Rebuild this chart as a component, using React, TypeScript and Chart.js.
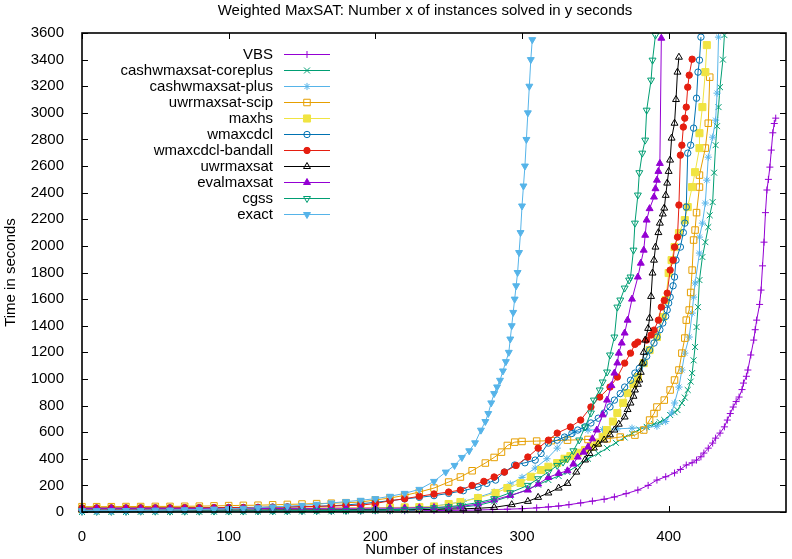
import React, { useEffect, useRef } from 'react';
import { Chart, registerables } from 'chart.js';

Chart.register(...registerables);

const titleText = 'Weighted MaxSAT: Number x of instances solved in y seconds';
const xAxisTitle = 'Number of instances';
const yAxisTitle = 'Time in seconds';

const xTicks = [0, 100, 200, 300, 400];
const yTicks = [0, 200, 400, 600, 800, 1000, 1200, 1400, 1600, 1800, 2000, 2200, 2400, 2600, 2800, 3000, 3200, 3400, 3600];

const seriesNames = ['VBS', 'cashwmaxsat-coreplus', 'cashwmaxsat-plus', 'uwrmaxsat-scip', 'maxhs', 'wmaxcdcl', 'wmaxcdcl-bandall', 'uwrmaxsat', 'evalmaxsat', 'cgss', 'exact'];
const seriesColors = ['#9400d3', '#009e73', '#56b4e9', '#e69f00', '#f0e442', '#0072b2', '#e51e10', '#000000', '#9400d3', '#009e73', '#56b4e9'];

// [instances solved, seconds]
const vbs = [[0,2],[10,2],[20,2],[30,2],[40,3],[50,3],[60,3],[70,3],[80,3],[90,4],[100,4],[110,4],[120,5],[130,5],[140,5],[150,6],[160,6],[170,6],[180,7],[190,7],[200,8],[210,8],[220,9],[230,10],[240,11],[250,12],[260,13],[270,15],[280,18],[290,21],[300,25],[310,31],[318,38],[325,45],[332,55],[340,68],[348,82],[356,96],[363,113],[371,138],[379,165],[386,200],[392,240],[398,265],[404,293],[408,320],[412,353],[416,370],[419,390],[422,415],[424,443],[427,480],[430,518],[432,555],[435,593],[438,640],[440,691],[442,740],[444,789],[446,830],[448,864],[450,920],[451,969],[453,1020],[454,1067],[456,1180],[458,1292],[459,1370],[460,1442],[462,1560],[463,1668],[464,1850],[465,2028],[466,2250],[467,2420],[468,2500],[469,2592],[470,2720],[471,2850],[472,2920],[473,2960]];
const coreplus = [[0,0],[10,0],[20,0],[30,0],[40,1],[50,1],[60,1],[70,1],[80,1],[90,2],[100,2],[110,2],[120,3],[130,3],[140,3],[150,4],[160,5],[170,5],[180,6],[190,7],[200,8],[210,10],[220,12],[230,16],[240,20],[250,28],[260,38],[270,50],[281,80],[292,120],[304,170],[311,205],[318,240],[325,270],[331,300],[338,350],[345,400],[352,440],[358,480],[364,520],[370,560],[375,590],[380,620],[385,640],[390,660],[394,675],[397,691],[401,729],[404,750],[406,766],[409,819],[411,860],[413,917],[415,980],[416,1044],[417,1140],[418,1240],[419,1390],[420,1540],[421,1743],[423,1916],[425,2028],[427,2141],[428,2230],[430,2329],[431,2550],[432,2757],[433,2900],[434,3043],[435,3193],[437,3400],[438,3584]];
const plus = [[0,5],[10,5],[20,5],[30,5],[40,6],[50,6],[60,6],[70,6],[80,6],[90,7],[100,7],[110,7],[120,8],[130,8],[140,9],[150,10],[160,11],[170,12],[180,14],[190,16],[200,18],[210,22],[220,28],[230,35],[240,45],[250,60],[260,80],[270,110],[281,150],[292,210],[300,260],[309,330],[317,400],[324,480],[330,560],[335,600],[345,615],[355,620],[365,625],[375,630],[385,635],[392,645],[398,680],[402,744],[404,819],[407,939],[409,1067],[411,1194],[414,1315],[416,1495],[417,1615],[418,1721],[421,1946],[421,2066],[423,2171],[425,2322],[426,2494],[427,2667],[430,2817],[432,2945],[433,3148],[434,3569]];
const scip = [[0,40],[10,40],[20,40],[30,41],[40,41],[50,42],[60,42],[70,43],[80,44],[90,46],[100,48],[110,50],[120,51],[130,54],[140,57],[150,60],[160,63],[170,66],[180,70],[190,75],[200,90],[210,105],[220,125],[230,150],[240,180],[250,225],[258,263],[266,310],[275,368],[281,410],[286,450],[290,500],[295,525],[300,530],[310,533],[320,536],[331,540],[345,545],[358,550],[367,563],[377,578],[383,616],[387,691],[390,740],[392,789],[397,841],[401,917],[404,992],[407,1067],[409,1194],[411,1307],[412,1442],[414,1518],[415,1650],[416,1818],[417,2044],[418,2119],[419,2250],[421,2442],[421,2532],[425,2735],[427,2922],[428,3268]];
const maxhs = [[0,25],[10,25],[20,25],[30,26],[40,26],[50,26],[60,26],[70,27],[80,27],[90,27],[100,28],[110,28],[120,29],[130,29],[140,30],[150,30],[160,31],[170,31],[180,32],[190,32],[200,33],[210,34],[220,35],[230,37],[240,42],[250,60],[258,75],[270,105],[282,143],[290,180],[299,218],[306,265],[313,315],[318,340],[324,368],[329,400],[333,420],[338,445],[343,466],[347,490],[351,518],[355,565],[358,616],[362,680],[365,744],[369,820],[372,894],[376,960],[379,1014],[383,1119],[387,1217],[392,1315],[396,1465],[398,1593],[400,1796],[402,1893],[404,1991],[407,2096],[411,2194],[413,2292],[416,2442],[418,2554],[421,2735],[421,2847],[423,3043],[425,3306],[426,3509]];
const wmaxcdcl = [[0,30],[10,30],[20,30],[30,30],[40,31],[50,31],[60,31],[70,32],[80,32],[90,33],[100,34],[110,34],[120,35],[130,37],[140,38],[150,40],[160,43],[170,47],[180,53],[190,62],[200,73],[210,85],[220,98],[230,110],[240,123],[250,140],[260,160],[270,188],[276,215],[282,240],[288,300],[295,353],[302,370],[309,390],[313,440],[318,518],[324,540],[329,563],[334,590],[338,616],[343,640],[347,669],[352,705],[356,744],[360,790],[363,841],[367,890],[370,939],[374,990],[377,1044],[380,1080],[383,1119],[385,1170],[387,1217],[390,1270],[392,1315],[394,1370],[396,1420],[398,1470],[399,1518],[400,1570],[401,1615],[403,1700],[404,1766],[405,1893],[408,1991],[410,2100],[411,2171],[412,2292],[413,2697],[415,2757],[417,2885],[419,3110],[420,3306],[421,3396],[422,3569]];
const bandall = [[0,30],[10,30],[20,30],[30,30],[40,31],[50,31],[60,31],[70,32],[80,32],[90,32],[100,33],[110,33],[120,34],[130,36],[140,38],[150,40],[160,42],[170,45],[180,48],[190,51],[200,64],[210,84],[220,100],[230,118],[240,135],[250,150],[258,165],[266,200],[274,230],[281,263],[288,300],[296,350],[304,413],[311,480],[318,540],[324,593],[333,639],[340,691],[347,789],[353,864],[360,939],[365,1014],[370,1119],[374,1194],[377,1260],[379,1277],[385,1292],[388,1330],[390,1367],[393,1442],[395,1540],[397,1590],[399,1645],[401,1818],[403,1893],[404,1991],[406,2066],[407,2307],[408,2682],[409,2757],[410,2893],[411,2960],[412,3043],[413,3193],[414,3283],[416,3403]];
const uwrmaxsat = [[0,15],[10,15],[20,15],[30,15],[40,15],[50,15],[60,15],[70,15],[80,15],[90,15],[100,15],[110,15],[120,15],[130,16],[140,16],[150,16],[160,16],[170,16],[180,16],[190,17],[200,17],[210,18],[220,18],[230,19],[240,20],[250,22],[260,24],[270,28],[281,35],[293,55],[304,80],[311,110],[318,143],[325,180],[331,215],[337,300],[343,391],[346,440],[349,481],[352,510],[356,541],[360,580],[363,616],[366,660],[370,714],[372,770],[374,819],[376,870],[377,917],[379,960],[380,992],[381,1050],[382,1119],[383,1200],[384,1292],[386,1380],[387,1457],[388,1620],[389,1796],[390,1893],[391,1991],[393,2100],[394,2171],[396,2240],[397,2284],[398,2380],[399,2472],[400,2560],[401,2645],[402,2810],[404,2922],[405,3100],[406,3306],[407,3418]];
const evalmaxsat = [[0,25],[10,25],[20,25],[30,25],[40,25],[50,25],[60,25],[70,25],[80,25],[90,26],[100,26],[110,26],[120,26],[130,26],[140,27],[150,27],[160,27],[170,28],[180,28],[190,28],[200,29],[210,29],[220,30],[230,32],[240,34],[250,37],[258,40],[270,60],[281,90],[292,125],[304,165],[311,210],[318,260],[325,290],[331,310],[335,360],[338,413],[342,450],[345,488],[348,550],[351,616],[355,730],[358,841],[361,950],[363,1044],[365,1120],[366,1194],[368,1270],[370,1345],[372,1442],[375,1600],[379,1766],[381,1870],[383,1968],[384,2080],[385,2194],[387,2280],[390,2367],[391,2430],[392,2494],[393,2560],[394,2620],[395,3561]];
const cgss = [[0,5],[10,5],[20,5],[30,5],[40,6],[50,6],[60,6],[70,6],[80,6],[90,7],[100,7],[110,7],[120,8],[130,8],[140,9],[150,10],[160,10],[170,11],[180,12],[190,13],[200,15],[210,17],[220,20],[230,25],[240,32],[250,40],[258,50],[270,70],[281,100],[292,145],[304,200],[311,250],[318,300],[324,350],[328,375],[331,400],[335,460],[339,541],[343,639],[347,744],[349,841],[353,917],[355,977],[358,1052],[360,1180],[363,1315],[365,1540],[367,1593],[370,1683],[373,1743],[374,1766],[376,1968],[377,2171],[379,2382],[380,2550],[382,2697],[384,2795],[385,3020],[388,3246],[389,3396],[391,3584]];
const exact = [[0,10],[10,10],[20,10],[30,11],[40,12],[50,14],[60,15],[70,17],[80,19],[90,22],[100,25],[110,28],[120,32],[130,38],[140,44],[150,50],[160,58],[170,68],[180,78],[190,88],[200,100],[210,118],[220,140],[230,170],[240,230],[248,300],[254,350],[259,410],[264,460],[268,520],[272,615],[275,680],[277,740],[279,820],[281,890],[283,940],[285,990],[287,1060],[289,1130],[291,1200],[292,1300],[293,1400],[294,1500],[295,1600],[296,1700],[297,1800],[298,1950],[299,2100],[300,2300],[301,2450],[302,2600],[303,2800],[304,3000],[305,3200],[306,3400],[307,3550]];

const seriesData = [vbs, coreplus, plus, scip, maxhs, wmaxcdcl, bandall, uwrmaxsat, evalmaxsat, cgss, exact];

type Marker = { style: string; filled: boolean; r: number; rot: number };
const markerStyles: Marker[] = [
  { style: 'cross', filled: false, r: 3.5, rot: 0 },
  { style: 'crossRot', filled: false, r: 4.2, rot: 0 },
  { style: 'star', filled: false, r: 3.6, rot: 0 },
  { style: 'rect', filled: false, r: 4.6, rot: 0 },
  { style: 'rect', filled: true, r: 5, rot: 0 },
  { style: 'circle', filled: false, r: 3.2, rot: 0 },
  { style: 'circle', filled: true, r: 3.2, rot: 0 },
  { style: 'triangle', filled: false, r: 4, rot: 0 },
  { style: 'triangle', filled: true, r: 4, rot: 0 },
  { style: 'triangle', filled: false, r: 4, rot: 180 },
  { style: 'triangle', filled: true, r: 4, rot: 180 },
];

const FONT = '"Liberation Sans", Arial, Helvetica, sans-serif';
const FSIZE = 15;

function drawMarker(ctx: CanvasRenderingContext2D, m: Marker, x: number, y: number, color: string) {
  ctx.save();
  ctx.translate(x, y);
  ctx.rotate((m.rot * Math.PI) / 180);
  ctx.strokeStyle = color;
  ctx.fillStyle = color;
  ctx.lineWidth = 1;
  const r = m.r;
  ctx.beginPath();
  if (m.style === 'cross') {
    ctx.moveTo(-r, 0); ctx.lineTo(r, 0); ctx.moveTo(0, -r); ctx.lineTo(0, r);
    ctx.stroke();
  } else if (m.style === 'crossRot') {
    const d = r * Math.SQRT1_2;
    ctx.moveTo(-d, -d); ctx.lineTo(d, d); ctx.moveTo(-d, d); ctx.lineTo(d, -d);
    ctx.stroke();
  } else if (m.style === 'star') {
    const d = r * Math.SQRT1_2;
    ctx.moveTo(-r, 0); ctx.lineTo(r, 0); ctx.moveTo(0, -r); ctx.lineTo(0, r);
    ctx.moveTo(-d, -d); ctx.lineTo(d, d); ctx.moveTo(-d, d); ctx.lineTo(d, -d);
    ctx.stroke();
  } else if (m.style === 'rect') {
    const s = r * Math.SQRT1_2;
    ctx.rect(-s, -s, 2 * s, 2 * s);
    if (m.filled) ctx.fill();
    ctx.stroke();
  } else if (m.style === 'circle') {
    ctx.arc(0, 0, r, 0, Math.PI * 2);
    if (m.filled) ctx.fill();
    ctx.stroke();
  } else {
    for (let k = 0; k < 3; k++) {
      const a = (k * 2 * Math.PI) / 3;
      const px = Math.sin(a) * r;
      const py = -Math.cos(a) * r;
      if (k === 0) ctx.moveTo(px, py); else ctx.lineTo(px, py);
    }
    ctx.closePath();
    if (m.filled) ctx.fill();
    ctx.stroke();
  }
  ctx.restore();
}

const framePlugin = {
  id: 'gnuplotFrame',
  afterDatasetsDraw(chart: any) {
    const { ctx, chartArea: a, scales } = chart;
    ctx.save();
    ctx.strokeStyle = '#000';
    ctx.lineWidth = 1;
    ctx.beginPath();
    yTicks.forEach((v) => {
      const py = Math.round(scales.y.getPixelForValue(v)) + 0.5;
      ctx.moveTo(a.left, py); ctx.lineTo(a.left + 6, py);
      ctx.moveTo(a.right - 6, py); ctx.lineTo(a.right, py);
    });
    xTicks.forEach((v) => {
      const px = Math.round(scales.x.getPixelForValue(v)) + 0.5;
      ctx.moveTo(px, a.bottom); ctx.lineTo(px, a.bottom - 6);
      ctx.moveTo(px, a.top); ctx.lineTo(px, a.top + 6);
    });
    ctx.stroke();
    ctx.lineWidth = 1.6;
    ctx.strokeRect(a.left, a.top, a.right - a.left, a.bottom - a.top);

    ctx.font = `${FSIZE}px ${FONT}`;
    ctx.fillStyle = '#000';
    ctx.textAlign = 'center';
    ctx.textBaseline = 'middle';
    ctx.fillText(titleText, 425, 11);

    // key: right-aligned labels with a sample line and marker
    ctx.textAlign = 'right';
    seriesNames.forEach((name, i) => {
      const y = 54 + 16 * i;
      ctx.fillStyle = '#000';
      ctx.fillText(name, 273, y + 0.5);
      ctx.strokeStyle = seriesColors[i];
      ctx.lineWidth = 1;
      ctx.beginPath();
      ctx.moveTo(284, y + 0.5); ctx.lineTo(330, y + 0.5);
      ctx.stroke();
      drawMarker(ctx, markerStyles[i], 307, y + 0.5, seriesColors[i]);
    });
    ctx.restore();
  },
};

export default function App() {
  const ref = useRef<HTMLCanvasElement | null>(null);
  useEffect(() => {
    document.body.style.margin = '0';
    if (!ref.current) return;
    const n = seriesNames.length;
    const tickFont = { family: FONT, size: FSIZE };
    const chart = new Chart(ref.current, {
      type: 'line',
      data: {
        datasets: seriesNames.map((name, i) => ({
          label: name,
          data: seriesData[i].map(([x, y]) => ({ x, y })),
          borderColor: seriesColors[i],
          backgroundColor: seriesColors[i],
          borderWidth: 1,
          pointStyle: markerStyles[i].style as any,
          pointRadius: markerStyles[i].r,
          pointRotation: markerStyles[i].rot,
          pointBorderColor: seriesColors[i],
          pointBackgroundColor: markerStyles[i].filled ? seriesColors[i] : 'rgba(0,0,0,0)',
          pointBorderWidth: 1,
          pointHoverRadius: markerStyles[i].r,
          fill: false,
          tension: 0,
          order: n - i,
          clip: 6,
        })),
      },
      options: {
        animation: false,
        responsive: false,
        devicePixelRatio: 1,
        events: [],
        layout: { padding: { left: 0, right: 3, top: 33, bottom: 0 } },
        plugins: {
          legend: { display: false },
          tooltip: { enabled: false },
          title: { display: false },
        },
        scales: {
          x: {
            type: 'linear',
            min: 0,
            max: 480,
            grid: { display: false },
            border: { display: false },
            ticks: { color: '#000', font: tickFont, padding: 8, autoSkip: false, maxRotation: 0, callback: (v: any) => String(v) },
            afterBuildTicks: (s: any) => { s.ticks = xTicks.map((v) => ({ value: v })); },
            afterFit: (s: any) => { s.height = 47; },
            title: { display: true, text: xAxisTitle, color: '#000', font: tickFont, padding: { top: 0, bottom: 0 } },
          },
          y: {
            type: 'linear',
            min: 0,
            max: 3600,
            grid: { display: false },
            border: { display: false },
            ticks: { color: '#000', font: tickFont, padding: 10, autoSkip: false, callback: (v: any) => String(v) },
            afterBuildTicks: (s: any) => { s.ticks = yTicks.map((v) => ({ value: v })); },
            afterFit: (s: any) => { s.width = 82; },
            title: { display: true, text: yAxisTitle, color: '#000', font: tickFont, padding: { top: 2, bottom: 0 } },
          },
        },
      },
      plugins: [framePlugin],
    });
    return () => chart.destroy();
  }, []);
  return (
    <div style={{ position: 'absolute', left: 0, top: 0, width: 792, height: 559 }}>
      <canvas ref={ref} width={792} height={559} />
    </div>
  );
}
